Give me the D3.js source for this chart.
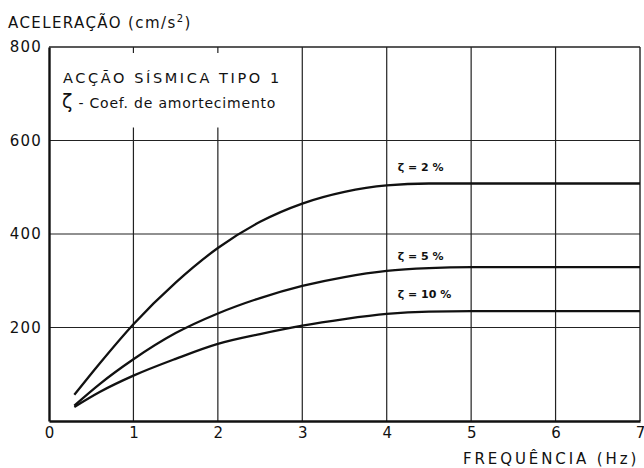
<!DOCTYPE html>
<html lang="pt">
<head>
    <meta charset="UTF-8">
    <title>Acção sísmica tipo 1</title>
    <script src="https://d3js.org/d3.v7.min.js"></script>
    <style>
        body { margin: 0; background: #fff; }
        text { font-family: "DejaVu Sans", sans-serif; fill: #111; }
    </style>
</head>
<body>
    <svg id="chart" width="644" height="468"></svg>

    <script>
        // valores
        const freq = [0.3, 0.6, 1, 1.5, 2, 2.5, 3, 3.5, 4, 4.5, 5, 6, 7];
        const zeta2 = [56, 123, 207, 296, 370, 426, 465, 490, 504, 508, 508, 508, 508];
        const zeta5 = [33, 79, 132, 188, 230, 263, 289, 308, 321, 327, 329, 329, 329];
        const zeta10 = [30, 62, 97, 133, 165, 186, 204, 218, 229, 234, 235, 235, 235];
        const xTicks = [0, 1, 2, 3, 4, 5, 6, 7];
        const yTicks = [200, 400, 600, 800];
        const labels = ["ζ = 2 %", "ζ = 5 %", "ζ = 10 %"];

        const svg = d3.select("#chart");

        // escalas
        const x = d3.scaleLinear().domain([0, 7]).range([49, 640]);
        const y = d3.scaleLinear().domain([0, 800]).range([421, 47]);

        // grelha horizontal
        svg.append("g")
           .selectAll("line")
           .data([200, 400, 600])
           .join("line")
           .attr("x1", x(0)).attr("x2", x(7))
           .attr("y1", d => y(d)).attr("y2", d => y(d))
           .attr("stroke", "#222").attr("stroke-width", 1.2);

        // grelha vertical (1 e 2 interrompidas pelo quadro da legenda)
        svg.append("g")
           .selectAll("line")
           .data([1, 2, 3, 4, 5, 6])
           .join("line")
           .attr("x1", d => x(d)).attr("x2", d => x(d))
           .attr("y1", d => d < 3 ? y(628) : y(800))
           .attr("y2", y(0))
           .attr("stroke", "#222").attr("stroke-width", 1.2);

        // pequenos traços no topo
        svg.append("g")
           .selectAll("line")
           .data([1, 2])
           .join("line")
           .attr("x1", d => x(d)).attr("x2", d => x(d))
           .attr("y1", y(800)).attr("y2", y(800) + 6)
           .attr("stroke", "#222").attr("stroke-width", 1.2);

        // moldura
        svg.append("line")
           .attr("x1", x(0)).attr("x2", x(7)).attr("y1", y(800)).attr("y2", y(800))
           .attr("stroke", "#222").attr("stroke-width", 1.4);
        svg.append("line")
           .attr("x1", x(7)).attr("x2", x(7)).attr("y1", y(800)).attr("y2", y(0))
           .attr("stroke", "#222").attr("stroke-width", 1.4);

        // eixos
        const xAxis = svg.append("g")
           .attr("transform", `translate(0,${y(0)})`)
           .call(d3.axisBottom(x).tickValues(xTicks).tickSize(0).tickPadding(6).tickFormat(d3.format("d")));
        xAxis.select(".domain").attr("stroke", "#111").attr("stroke-width", 2.6);
        xAxis.selectAll("text").attr("font-size", 15).attr("fill", "#111");

        const yAxis = svg.append("g")
           .attr("transform", `translate(${x(0)},0)`)
           .call(d3.axisLeft(y).tickValues(yTicks).tickSize(0).tickPadding(7));
        yAxis.select(".domain").attr("stroke", "#111").attr("stroke-width", 2.4);
        yAxis.selectAll("text").attr("font-size", 15).attr("letter-spacing", 1.2).attr("fill", "#111");

        // curvas
        const series = [zeta2, zeta5, zeta10];
        const line = d3.line()
           .x((d, i) => x(freq[i]))
           .y(d => y(d))
           .curve(d3.curveMonotoneX);

        svg.append("g")
           .selectAll("path")
           .data(series)
           .join("path")
           .attr("fill", "none")
           .attr("stroke", "#111")
           .attr("stroke-width", 2.3)
           .attr("d", line);

        // rótulos das curvas
        const labelPos = [[4.13, 535], [4.13, 344], [4.13, 263]];
        svg.append("g")
           .selectAll("text")
           .data(labels)
           .join("text")
           .attr("x", (d, i) => x(labelPos[i][0]))
           .attr("y", (d, i) => y(labelPos[i][1]))
           .attr("font-size", 11)
           .attr("font-weight", "bold")
           .text(d => d);

        // legenda
        svg.append("text")
           .attr("x", 63).attr("y", 83)
           .attr("font-size", 14.5).attr("letter-spacing", 2.6)
           .text("ACÇÃO SÍSMICA TIPO 1");
        const leg = svg.append("text")
           .attr("x", 62).attr("y", 108)
           .attr("font-size", 14).attr("letter-spacing", 0.8);
        leg.append("tspan").attr("font-size", 19).text("ζ");
        leg.append("tspan").text(" - Coef. de amortecimento");

        // títulos dos eixos
        const yt = svg.append("text")
           .attr("x", 8).attr("y", 28)
           .attr("font-size", 15).attr("letter-spacing", 1.4);
        yt.append("tspan").text("ACELERAÇÃO  (cm/s");
        yt.append("tspan").attr("font-size", 10).attr("dy", -6).text("2");
        yt.append("tspan").attr("dy", 6).text(")");

        svg.append("text")
           .attr("x", 463).attr("y", 464)
           .attr("font-size", 15).attr("letter-spacing", 2.9)
           .text("FREQUÊNCIA  (Hz)");
    </script>
</body>
</html>
